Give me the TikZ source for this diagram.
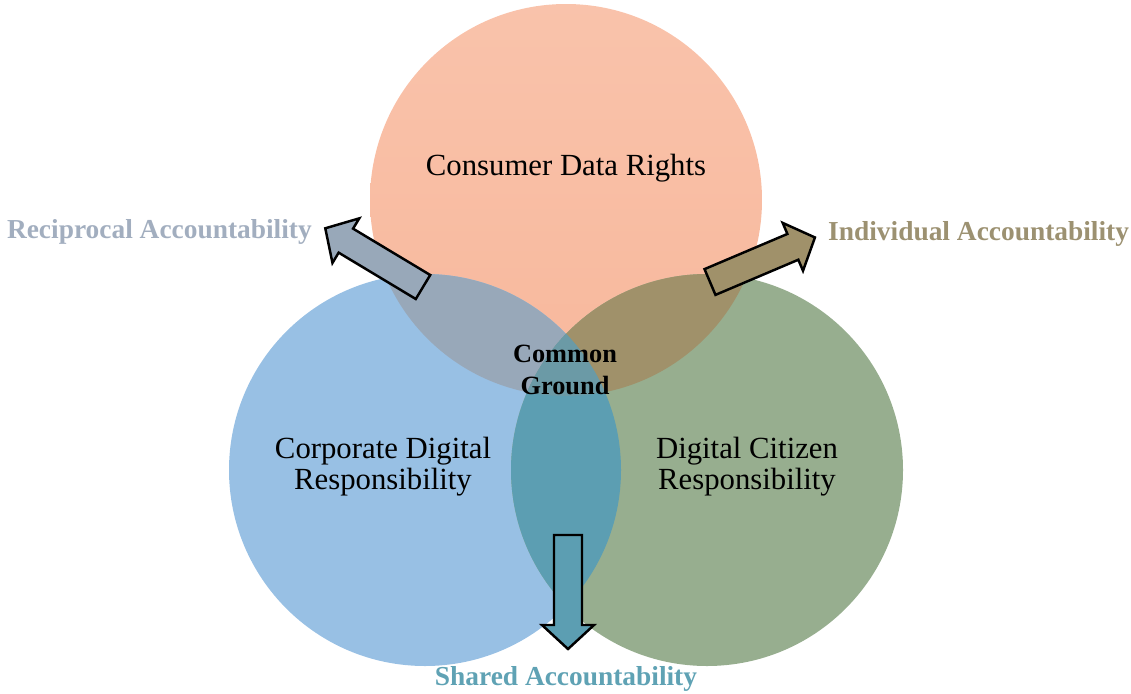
\documentclass[tikz,border=0pt]{standalone}
\usepackage{fontspec}
\setmainfont{Liberation Serif}
\usepackage{tikz}

\definecolor{salmon}{HTML}{F8B89C}
\definecolor{skyblue}{HTML}{98C0E4}
\definecolor{sage}{HTML}{97AE8F}
\definecolor{slate}{HTML}{98A8B9}
\definecolor{olive}{HTML}{A0916A}
\definecolor{teal}{HTML}{5C9EB2}
\definecolor{core}{HTML}{6B9AA6}
\definecolor{reciptext}{HTML}{A2AEBF}
\definecolor{indivtext}{HTML}{9C9171}
\definecolor{sharedtext}{HTML}{5FA2B4}

\begin{document}
\begin{tikzpicture}[x=0.02cm, y=-0.02cm,
  circlabel/.style={align=center, font=\fontsize{17.5}{17.8}\selectfont},
  outlabel/.style={font=\fontsize{15.6}{18}\selectfont\bfseries},
  centrelabel/.style={align=center, font=\fontsize{15}{18}\selectfont\bfseries},
  blockarrow/.style={draw=black, line width=1.4pt, line join=miter}]
  \useasboundingbox (0,0) rectangle (1131,693);

  \coordinate (ctop) at (566,200);
  \coordinate (cleft) at (425,470);
  \coordinate (cright) at (707,470);

  % the three circles
  \shade[top color=salmon!85!white, bottom color=salmon] (ctop) circle[radius=196];
  \fill[skyblue] (cleft) circle[radius=196];
  \fill[sage] (cright) circle[radius=196];

  % overlaps
  \begin{scope}
    \clip (ctop) circle[radius=196];
    \fill[slate] (cleft) circle[radius=196];
    \fill[olive] (cright) circle[radius=196];
  \end{scope}
  \begin{scope}
    \clip (cleft) circle[radius=196];
    \fill[teal] (cright) circle[radius=196];
    \clip (cright) circle[radius=196];
    \fill[core] (ctop) circle[radius=196];
  \end{scope}

  % block arrows: tail x/y, angle, fill
  \foreach \tx/\ty/\ang/\col in {423/287/149/slate, 710/282/23/olive, 568/535/-90/teal}
    \draw[blockarrow, fill=\col, shift={(\tx,\ty)}, rotate=\ang]
      (0,-14) -- (90,-14) -- (90,-26) -- (114,0) -- (90,26) -- (90,14) -- (0,14) -- cycle;

  \node[circlabel] (rights) at (566,168) {Consumer Data Rights};
  \node[circlabel] (corporate) at (383,467) {Corporate Digital\\Responsibility};
  \node[circlabel] (citizen) at (747,467) {Digital Citizen\\Responsibility};
  \node[centrelabel] (common) at (565,370) {Common\\Ground};

  \node[outlabel, reciptext, anchor=east] (recip) at (318,232) {Reciprocal Accountability};
  \node[outlabel, indivtext, anchor=west] (indiv) at (822,234) {Individual Accountability};
  \node[outlabel, sharedtext] (shared) at (566,679) {Shared Accountability};
\end{tikzpicture}
\end{document}
